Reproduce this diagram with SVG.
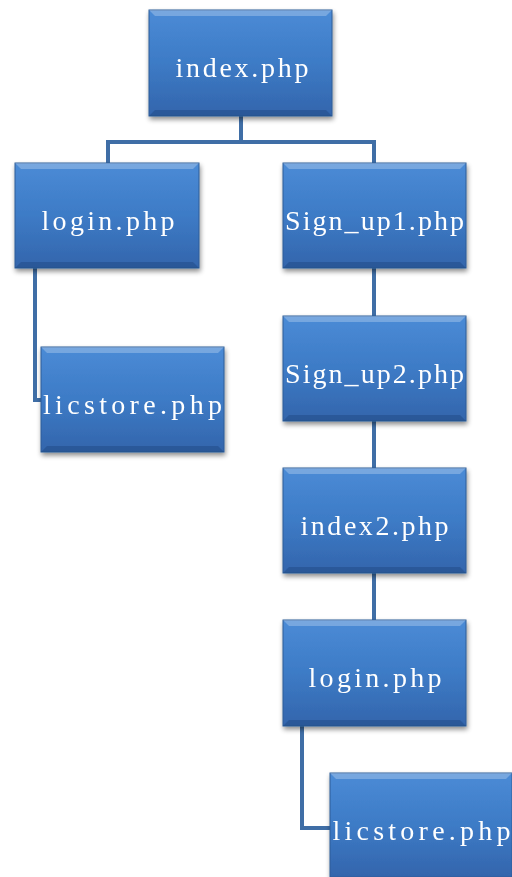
<svg xmlns="http://www.w3.org/2000/svg" width="512" height="877" viewBox="0 0 512 877">
<defs>
<linearGradient id="g" x1="0" y1="0" x2="0" y2="1">
<stop offset="0" stop-color="#4b8bd6"/>
<stop offset="0.5" stop-color="#3d7bc6"/>
<stop offset="1" stop-color="#3365ac"/>
</linearGradient>
<filter id="sh" x="-10%" y="-10%" width="125%" height="130%">
<feGaussianBlur in="SourceAlpha" stdDeviation="2.5"/>
<feOffset dx="1" dy="3" result="b"/>
<feComponentTransfer><feFuncA type="linear" slope="0.45"/></feComponentTransfer>
<feMerge><feMergeNode/><feMergeNode in="SourceGraphic"/></feMerge>
</filter>
</defs>
<style>
.box{fill:url(#g);stroke:#2e5c98;stroke-width:1}
.hi{fill:#ffffff;opacity:0.25}
.lo{fill:#13386a;opacity:0.3}
.t{font-family:"Liberation Serif","Noto Sans CJK SC",serif;font-size:28px;fill:#ffffff;text-anchor:middle}
.c{fill:none;stroke:#3f6ea6;stroke-width:4}
</style>
<g id="connectors">
<path class="c" d="M241,116 V142 M108,142 H376 M108,140 V163 M374,140 V163"/>
<path class="c" d="M35,268 V400 H42"/>
<path class="c" d="M374,268 V316 M374,421 V468 M374,573 V620"/>
<path class="c" d="M302,726 V828 H330"/>
</g>
<g id="n1" filter="url(#sh)">
<rect class="box" x="149" y="10" width="183" height="106"/>
<path class="hi" d="M149,10 H332 L326,16 H155 Z"/>
<path class="lo" d="M149,116 H332 L326,110 H155 Z"/>
<text class="t" x="242" y="77" textLength="133" lengthAdjust="spacing">index.php</text>
</g>
<g id="n2" filter="url(#sh)">
<rect class="box" x="15" y="163" width="184" height="105"/>
<path class="hi" d="M15,163 H199 L193,169 H21 Z"/>
<path class="lo" d="M15,268 H199 L193,262 H21 Z"/>
<text class="t" x="108" y="230" textLength="133" lengthAdjust="spacing">login.php</text>
</g>
<g id="n3" filter="url(#sh)">
<rect class="box" x="41" y="347" width="183" height="105"/>
<path class="hi" d="M41,347 H224 L218,353 H47 Z"/>
<path class="lo" d="M41,452 H224 L218,446 H47 Z"/>
<text class="t" x="132.5" y="414" textLength="179" lengthAdjust="spacing">licstore.php</text>
</g>
<g id="n4" filter="url(#sh)">
<rect class="box" x="283" y="163" width="183" height="105"/>
<path class="hi" d="M283,163 H466 L460,169 H289 Z"/>
<path class="lo" d="M283,268 H466 L460,262 H289 Z"/>
<text class="t" x="374.5" y="230" textLength="179" lengthAdjust="spacing">Sign_up1.php</text>
</g>
<g id="n5" filter="url(#sh)">
<rect class="box" x="283" y="316" width="183" height="105"/>
<path class="hi" d="M283,316 H466 L460,322 H289 Z"/>
<path class="lo" d="M283,421 H466 L460,415 H289 Z"/>
<text class="t" x="374.5" y="383" textLength="179" lengthAdjust="spacing">Sign_up2.php</text>
</g>
<g id="n6" filter="url(#sh)">
<rect class="box" x="283" y="468" width="183" height="105"/>
<path class="hi" d="M283,468 H466 L460,474 H289 Z"/>
<path class="lo" d="M283,573 H466 L460,567 H289 Z"/>
<text class="t" x="374.5" y="535" textLength="148" lengthAdjust="spacing">index2.php</text>
</g>
<g id="n7" filter="url(#sh)">
<rect class="box" x="283" y="620" width="183" height="106"/>
<path class="hi" d="M283,620 H466 L460,626 H289 Z"/>
<path class="lo" d="M283,726 H466 L460,720 H289 Z"/>
<text class="t" x="375" y="687" textLength="133" lengthAdjust="spacing">login.php</text>
</g>
<g id="n8" filter="url(#sh)">
<rect class="box" x="330" y="773" width="182" height="104"/>
<path class="hi" d="M330,773 H512 L506,779 H336 Z"/>
<text class="t" x="421.5" y="840" textLength="178" lengthAdjust="spacing">licstore.php</text>
</g>
</svg>
